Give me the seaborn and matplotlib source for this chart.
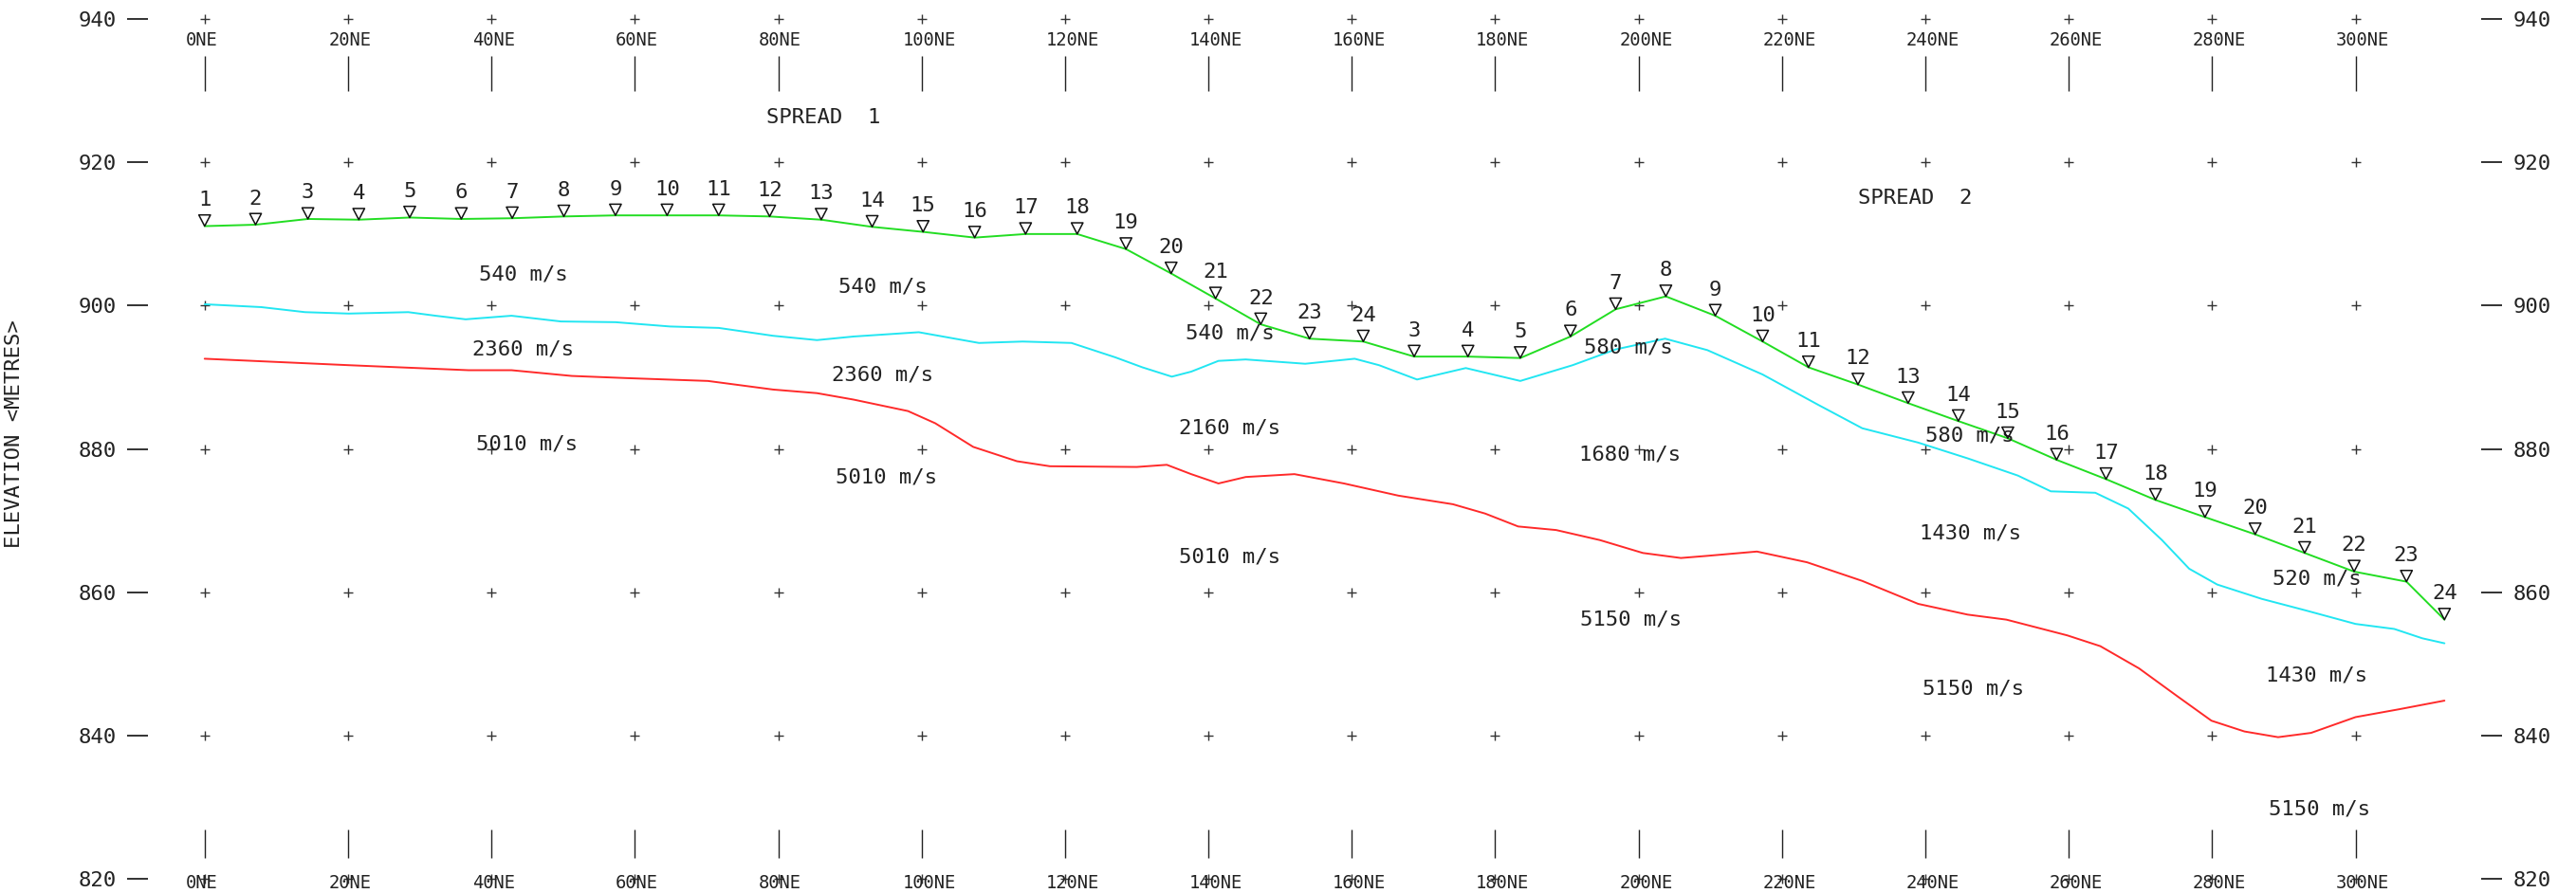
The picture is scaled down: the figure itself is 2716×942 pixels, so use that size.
import matplotlib
matplotlib.use("Agg")
import numpy as np
import pandas as pd
import matplotlib.pyplot as plt
from matplotlib.path import Path
from matplotlib.markers import MarkerStyle
import seaborn as sns

# ---- survey grid -------------------------------------------------------
stations = list(range(0, 301, 20))                    # chainage (m)
station_labels = [f"{s}NE" for s in stations]
elevations = [820, 840, 860, 880, 900, 920, 940]      # metres

# ---- geophones, spread 1 (chainage, ground elevation) ------------------
g1_num = list(range(1, 25))
g1_x = [0.0, 7.1, 14.4, 21.5, 28.6, 35.8, 42.9, 50.1, 57.3, 64.5, 71.7, 78.8,
        86.0, 93.1, 100.2, 107.4, 114.5, 121.7, 128.5, 134.8, 141.0, 147.3,
        154.1, 161.6]
g1_z = [911.1, 911.3, 912.1, 912.0, 912.3, 912.1, 912.2, 912.45, 912.6, 912.6,
        912.6, 912.45, 912.0, 911.0, 910.3, 909.5, 910.0, 910.0, 907.9, 904.5,
        901.0, 897.4, 895.4, 895.0]

# ---- geophones, spread 2 (1 and 2 share the last two of spread 1) ------
g2_num = list(range(3, 25))
g2_x = [168.7, 176.2, 183.5, 190.5, 196.8, 203.8, 210.7, 217.3, 223.7, 230.6,
        237.6, 244.6, 251.5, 258.3, 265.2, 272.1, 279.0, 286.0, 292.9, 299.8,
        307.1, 312.4]
g2_z = [892.9, 892.9, 892.7, 895.7, 899.5, 901.3, 898.6, 895.0, 891.4, 889.0,
        886.4, 883.9, 881.5, 878.5, 875.8, 872.9, 870.5, 868.1, 865.5, 862.9,
        861.5, 856.2]

# ---- first refractor (top of intermediate layer) -----------------------
ref1_x = [0, 7.9, 14.0, 20.1, 28.4, 32.2, 36.4, 42.8, 49.7, 57.3, 64.9, 71.7,
          79.3, 85.4, 90.5, 99.6, 108.0, 114.1, 120.9, 127.0, 130.8, 134.9,
          137.6, 141.4, 145.2, 153.5, 160.4, 163.8, 169.1, 175.9, 183.5, 190.8,
          196.8, 203.7, 209.6, 217.3, 225.0, 231.2, 239.0, 245.9, 252.9, 257.5,
          263.7, 268.3, 273.0, 276.8, 280.7, 286.9, 293.0, 300.0, 305.4, 309.3,
          312.4]
ref1_z = [900.2, 899.8, 899.1, 898.9, 899.1, 898.6, 898.1, 898.6, 897.8, 897.7,
          897.1, 896.9, 895.8, 895.2, 895.7, 896.3, 894.8, 895.0, 894.8, 892.8,
          891.4, 890.1, 890.8, 892.3, 892.5, 891.9, 892.6, 891.7, 889.7, 891.3,
          889.5, 891.7, 893.9, 895.4, 893.8, 890.4, 886.2, 882.9, 880.9, 878.7,
          876.3, 874.1, 873.9, 871.7, 867.3, 863.3, 861.1, 859.1, 857.5, 855.6,
          854.9, 853.6, 852.9]

# ---- second refractor (bedrock) ----------------------------------------
ref2_x = [0, 20.1, 36.8, 42.8, 51.2, 58.8, 70.2, 79.3, 85.4, 90.5, 98.1, 101.9,
          107.2, 113.3, 117.9, 130.0, 134.2, 137.6, 141.4, 145.2, 152.0, 158.9,
          166.5, 174.1, 178.6, 183.2, 188.5, 194.6, 200.6, 205.9, 209.6, 216.5,
          223.5, 231.2, 239.0, 245.9, 251.3, 259.8, 264.4, 269.8, 275.3, 279.9,
          284.5, 289.2, 293.8, 300.0, 306.1, 312.4]
ref2_z = [892.6, 891.7, 891.0, 891.0, 890.2, 889.9, 889.5, 888.3, 887.8, 886.9,
          885.3, 883.6, 880.3, 878.3, 877.6, 877.5, 877.8, 876.5, 875.2, 876.1,
          876.5, 875.2, 873.5, 872.3, 871.0, 869.2, 868.7, 867.3, 865.5, 864.8,
          865.1, 865.7, 864.2, 861.6, 858.4, 856.9, 856.2, 854.0, 852.5, 849.4,
          845.4, 842.1, 840.6, 839.8, 840.4, 842.6, 843.7, 844.9]

# ---- layer velocities (m/s) --------------------------------------------
velocities = [540, 540, 540, 2360, 2360, 2160, 5010, 5010, 5010,
              580, 580, 520, 1680, 1430, 1430, 5150, 5150, 5150]

# where each velocity annotation sits (chainage, elevation)
vel_pos = [(44.4, 904.4), (94.6, 902.6), (143.0, 896.1),
           (44.4, 893.9), (94.6, 890.4), (143.0, 883.0),
           (45.0, 880.65), (95.1, 876.1), (143.0, 865.0),
           (198.6, 894.2), (246.2, 881.85), (294.6, 861.9),
           (198.8, 879.2), (246.3, 868.2), (294.6, 848.4),
           (198.9, 856.2), (246.7, 846.6), (294.9, 829.8)]

spreads = ["SPREAD  1", "SPREAD  2"]
spread_pos = [(86.3, 926.3), (238.6, 915.0)]

# ---- style ---------------------------------------------------------------
sns.set_theme(style="white")
plt.rcParams["font.family"] = ["DejaVu Sans Mono", "DejaVu Sans"]
INK = "#222222"
GREEN = "#22dd22"
CYAN = "#22e6f2"
RED = "#ff2a2a"
FS = 16          # general annotation size
FS_STATION = 13.5

W, H = 2716, 942
fig = plt.figure(figsize=(W / 100, H / 100), dpi=100)
left_px, right_px = 155.6, 2616.0
ax = fig.add_axes([left_px / W, 0.0, (right_px - left_px) / W, 1.0])
ax.set_xlim(-7.96, 317.52)
ax.set_ylim(818.06, 942.65)
for sp in ax.spines.values():
    sp.set_visible(False)

# grid crosses at every station / elevation intersection
gx, gy = np.meshgrid(stations, elevations)
sns.scatterplot(x=gx.ravel(), y=gy.ravel(), marker="+", s=50, color="#333333",
                linewidth=1.0, ax=ax, zorder=2)

# station ticks and chainage labels, top and bottom
ax.vlines(stations, 929.9, 934.9, color=INK, linewidth=1.0)
ax.vlines(stations, 822.9, 826.9, color=INK, linewidth=1.0)
for s, lab in zip(stations, station_labels):
    ax.text(s - 2.7, 937.0, lab, ha="left", va="center",
            fontsize=FS_STATION, color=INK)
    ax.text(s - 2.7, 819.45, lab, ha="left", va="center",
            fontsize=FS_STATION, color=INK)

# layer boundaries
ground = pd.DataFrame({"x": g1_x + g2_x, "z": g1_z + g2_z})
sns.lineplot(data=ground, x="x", y="z", sort=False, estimator=None,
             color=GREEN, linewidth=1.4, ax=ax, zorder=3)
sns.lineplot(x=ref1_x, y=ref1_z, sort=False, estimator=None,
             color=CYAN, linewidth=1.4, ax=ax, zorder=3)
sns.lineplot(x=ref2_x, y=ref2_z, sort=False, estimator=None,
             color=RED, linewidth=1.4, ax=ax, zorder=3)

# geophones: hollow inverted triangles resting on the ground surface
tri = MarkerStyle(Path([(-0.52, 1.0), (0.52, 1.0), (0.0, 0.0), (-0.52, 1.0)],
                       [Path.MOVETO, Path.LINETO, Path.LINETO, Path.CLOSEPOLY]))
sns.scatterplot(x=g1_x + g2_x, y=g1_z + g2_z, marker=tri, s=290,
                facecolor="none", edgecolor="#111111", linewidth=1.1,
                ax=ax, zorder=4)
for n, x, z in zip(g1_num + g2_num, g1_x + g2_x, g1_z + g2_z):
    ax.text(x, z + 3.64, str(n), ha="center", va="center",
            fontsize=FS, color=INK)

# velocity annotations
for v, (x, z) in zip(velocities, vel_pos):
    ax.text(x, z, f"{v} m/s", ha="center", va="center", fontsize=FS, color=INK)

for lab, (x, z) in zip(spreads, spread_pos):
    ax.text(x, z, lab, ha="center", va="center", fontsize=FS, color=INK)

# elevation axis: dash ticks with labels on both sides
ax.set_xticks([])
ax.set_yticks(elevations)
ax.set_yticklabels([str(e) for e in elevations])
ax.tick_params(axis="y", left=True, right=True, labelleft=True,
               labelright=True, direction="out", length=16, width=1.3,
               pad=8, labelsize=FS, color=INK, labelcolor=INK)
ax.set_xlabel("")
ax.set_ylabel("ELEVATION <METRES>", fontsize=FS, color=INK)
ax.yaxis.set_label_coords(-0.0531, 0.5143)

fig.savefig("out.png", dpi=100)
